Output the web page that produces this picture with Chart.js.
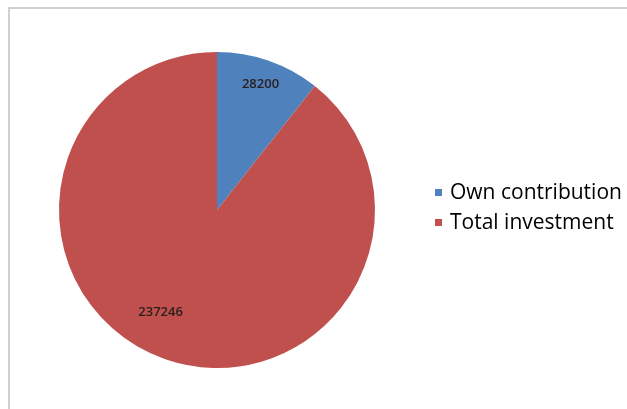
<!DOCTYPE html>
<html>
<head>
<meta charset="utf-8">
<script src="https://cdn.jsdelivr.net/npm/chart.js@4"></script>
<style>
  html, body { margin: 0; padding: 0; background: #fff; overflow: hidden; }
  #frame {
    position: absolute; left: 8px; top: 7px; width: 617px; height: 400px;
    border-left: 2px solid #cfcfcf; border-top: 2px solid #cfcfcf;
  }
  #wrap { position: absolute; left: 0; top: 0; width: 627px; height: 409px; }
</style>
</head>
<body>
<div id="frame"></div>
<div id="wrap"><canvas id="pieChart" width="627" height="409"></canvas></div>
<script>
const labels = ['Own contribution', 'Total investment'];
const values = [28200, 237246];
const colors = ['#4F81BD', '#C0504D'];

// value labels on the slices, Excel style
const sliceLabels = {
    id: 'sliceLabels',
    afterDatasetsDraw(chart) {
        const ctx = chart.ctx;
        const meta = chart.getDatasetMeta(0);
        ctx.save();
        ctx.font = '600 13px "Open Sans"';
        ctx.fillStyle = '#2b2020';
        ctx.textAlign = 'center';
        ctx.textBaseline = 'middle';
        meta.data.forEach((arc, i) => {
            const p = arc.getProps(['x', 'y', 'startAngle', 'endAngle', 'outerRadius'], true);
            const small = (p.endAngle - p.startAngle) < 1;
            const mid = (p.startAngle + p.endAngle) / 2 + (small ? 0 : 0.17);
            const r = p.outerRadius * (small ? 0.84 : 0.74);
            ctx.fillText(String(values[i]), p.x + Math.cos(mid) * r, p.y + Math.sin(mid) * r);
        });
        ctx.restore();
    }
};

// legend on the right
const sideLegend = {
    id: 'sideLegend',
    afterDraw(chart) {
        const ctx = chart.ctx;
        ctx.save();
        ctx.font = '21px "Open Sans"';
        ctx.textBaseline = 'alphabetic';
        labels.forEach((name, i) => {
            const y = 199 + i * 30;
            ctx.fillStyle = colors[i];
            ctx.fillRect(435, y - 10, 7, 7);
            ctx.fillStyle = '#000';
            ctx.fillText(name, 450, y);
        });
        ctx.restore();
    }
};

new Chart(document.getElementById('pieChart').getContext('2d'), {
    type: 'pie',
    data: {
        labels: labels,
        datasets: [{
            data: values,
            backgroundColor: colors,
            borderWidth: 0
        }]
    },
    options: {
        responsive: false,
        animation: false,
        layout: { padding: { left: 59, top: 52, right: 252, bottom: 41 } },
        plugins: {
            legend: { display: false },
            tooltip: { enabled: false }
        }
    },
    plugins: [sliceLabels, sideLegend]
});
</script>
</body>
</html>
